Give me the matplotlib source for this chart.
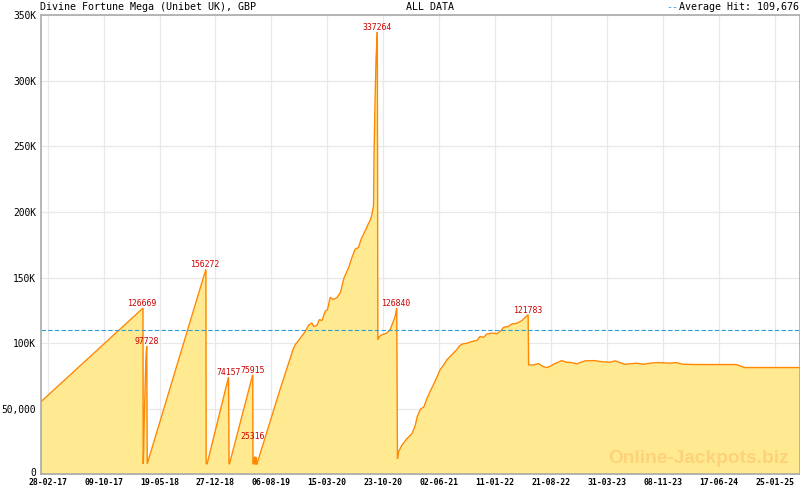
import matplotlib
matplotlib.use('Agg')
import matplotlib.pyplot as plt
import matplotlib.transforms as mtransforms
import numpy as np
import pandas as pd

# ---------------- data ----------------
dates = [
    '2017-01-31', '2018-03-14', '2018-03-15', '2018-03-17', '2018-03-19', '2018-03-22',
    '2018-03-26', '2018-03-29', '2018-03-31', '2018-11-19', '2018-11-20', '2018-11-24',
    '2019-02-17', '2019-02-19', '2019-02-21', '2019-05-24', '2019-05-25', '2019-05-30',
    '2019-05-31', '2019-06-02', '2019-06-03', '2019-06-06', '2019-06-07', '2019-06-08',
    '2019-06-10', '2019-09-11', '2019-10-31', '2019-11-09', '2019-11-29', '2019-12-19',
    '2020-01-01', '2020-01-14', '2020-01-21', '2020-02-03', '2020-02-13', '2020-02-23',
    '2020-03-07', '2020-03-16', '2020-03-27', '2020-04-07', '2020-04-22', '2020-05-06',
    '2020-05-21', '2020-06-08', '2020-06-21', '2020-07-04', '2020-07-17', '2020-07-28',
    '2020-08-13', '2020-08-22', '2020-09-04', '2020-09-09', '2020-09-15', '2020-09-17',
    '2020-09-21', '2020-09-25', '2020-09-28', '2020-09-30', '2020-10-02', '2020-10-08',
    '2020-10-18', '2020-11-07', '2020-11-20', '2020-11-30', '2020-12-10', '2020-12-16',
    '2020-12-19', '2020-12-23', '2021-01-05', '2021-01-25', '2021-02-15', '2021-02-28',
    '2021-03-07', '2021-03-20', '2021-04-03', '2021-04-14', '2021-04-27', '2021-05-10',
    '2021-05-24', '2021-06-06', '2021-06-19', '2021-07-03', '2021-07-16', '2021-07-29',
    '2021-08-11', '2021-08-24', '2021-09-06', '2021-09-23', '2021-10-11', '2021-10-31',
    '2021-11-12', '2021-11-26', '2021-12-09', '2021-12-29', '2022-01-18', '2022-02-03',
    '2022-02-13', '2022-03-05', '2022-03-18', '2022-04-07', '2022-04-27', '2022-05-11',
    '2022-05-22', '2022-05-24', '2022-06-12', '2022-07-02', '2022-07-21', '2022-08-04',
    '2022-08-24', '2022-08-30', '2022-09-13', '2022-10-02', '2022-10-22', '2022-11-11',
    '2022-12-01', '2023-01-03', '2023-02-11', '2023-03-03', '2023-04-12', '2023-05-02',
    '2023-06-10', '2023-07-27', '2023-08-22', '2023-10-01', '2023-10-27', '2023-12-06',
    '2024-01-01', '2024-01-28', '2024-03-21', '2024-08-26', '2024-09-28', '2025-05-04',
]
values = [
    55000, 126669, 8000, 19000, 41000, 62000,
    90000, 97728, 8000, 156272, 8000, 8000,
    74157, 8000, 8000, 75915, 8000, 8000,
    13000, 13000, 8000, 8000, 13000, 8000,
    8000, 65500, 95000, 98800, 103800, 109000,
    113600, 115400, 112800, 113600, 118000, 117200,
    124300, 125600, 135000, 133300, 134600, 138400,
    149900, 157600, 165200, 171700, 172900, 179400,
    185700, 189600, 194700, 198600, 204900, 244600,
    285500, 317500, 330300, 337264, 102600, 105000,
    106400, 107700, 110300, 115400, 120500, 126840,
    11700, 16900, 22000, 27100, 31000, 37400,
    43700, 49600, 51400, 57300, 62900, 68000,
    73700, 79600, 82900, 87200, 89800, 92300,
    94900, 98200, 99500, 100000, 101300, 102100,
    105100, 104400, 106900, 107700, 107200, 109500,
    112000, 112800, 114600, 115100, 117200, 119700,
    121783, 83400, 83400, 84400, 82100, 81400,
    82900, 83900, 85000, 86700, 85400, 85200,
    84200, 86500, 86700, 86000, 85400, 86500,
    83900, 84700, 83900, 85000, 85200, 84700,
    85200, 83900, 83700, 83700, 81400, 81400,
]

hit_dates = ['2018-03-14', '2018-03-29', '2018-11-19', '2019-02-17', '2019-05-24',
             '2019-05-25', '2020-09-30', '2020-12-16', '2022-05-22']
hit_values = [126669, 97728, 156272, 74157, 75915, 25316, 337264, 126840, 121783]

average_hit = 109676

xtick_dates = ['2017-02-28', '2017-10-09', '2018-05-19', '2018-12-27', '2019-08-06',
               '2020-03-15', '2020-10-23', '2021-06-02', '2022-01-11', '2022-08-21',
               '2023-03-31', '2023-11-08', '2024-06-17', '2025-01-25']
xtick_labels = ['28-02-17', '09-10-17', '19-05-18', '27-12-18', '06-08-19',
                '15-03-20', '23-10-20', '02-06-21', '11-01-22', '21-08-22',
                '31-03-23', '08-11-23', '17-06-24', '25-01-25']
ytick_values = [0, 50000, 100000, 150000, 200000, 250000, 300000, 350000]
ytick_labels = ['0', '50,000', '100K', '150K', '200K', '250K', '300K', '350K']

x_start, x_end = '2017-01-31', '2025-05-04'

title_text = 'Divine Fortune Mega (Unibet UK), GBP'
period_text = 'ALL DATA'
watermark = 'Online-Jackpots.biz'

# ---------------- drawing ----------------
MONO = ['DejaVu Sans Mono']
W, H = 800, 490
fig = plt.figure(figsize=(W / 100, H / 100), dpi=100)
fig.patch.set_facecolor('white')
ax = fig.add_axes([40.5 / W, 1 - 474.3 / H, 759 / W, 459 / H])

x = pd.to_datetime(dates)
ax.fill_between(x, values, 0, color='#ffea91', lw=0, zorder=2)
ax.plot(x, values, color='#ff8800', lw=1.0, zorder=4, solid_joinstyle='miter')
ax.axhline(average_hit, color='#2a9fd6', lw=0.8, dashes=(4, 2), zorder=5)

ax.text(0.986, 0.025, watermark, transform=ax.transAxes, ha='right', va='baseline',
        fontsize=13.8, fontweight='bold', family=['Liberation Sans', 'DejaVu Sans'],
        color='#fdd27a', zorder=3)

for d, v in zip(pd.to_datetime(hit_dates), hit_values):
    ax.annotate(str(v), (d, v), xytext=(0, 1.5), textcoords='offset points',
                ha='center', va='baseline', fontsize=5.9, color='#cc0000',
                family=MONO, zorder=6)

major = pd.to_datetime(xtick_dates)
major_num = matplotlib.dates.date2num(major)
step = (major_num[1] - major_num[0]) / 7
minor_num = np.arange(major_num[0] - 7 * step, major_num[-1] + 7 * step, step)
ax.set_xticks(major_num)
ax.set_xticklabels(xtick_labels, fontsize=5.9, fontweight='bold', family=MONO)
ax.set_xticks(minor_num, minor=True)
ax.tick_params(axis='x', which='major', direction='in', length=4.3, width=1,
               color='#aaaaaa', pad=2.5)
ax.tick_params(axis='x', which='minor', direction='in', length=2.9, width=1,
               color='#aaaaaa')
ax.set_yticks(ytick_values)
ax.set_yticklabels(ytick_labels, fontsize=6.9, family=MONO)
ax.tick_params(axis='y', length=0, pad=3.2)

# lift the "0" label slightly, as in the reference
zero_lbl = ax.get_yticklabels()[0]
zero_lbl.set_transform(zero_lbl.get_transform() +
                       mtransforms.ScaledTranslation(0, 2.5 / 100, fig.dpi_scale_trans))

ax.set_xlim(pd.Timestamp(x_start), pd.Timestamp(x_end))
ax.set_ylim(0, 350000)

# grid lines drawn beneath the filled area, ticks stay on top
for xv in major_num:
    ax.axvline(xv, color='#e8e8e8', lw=0.9, zorder=1)
for yv in ytick_values:
    ax.axhline(yv, color='#e8e8e8', lw=0.9, zorder=1)
for s in ax.spines.values():
    s.set_color('#aaaaaa')
    s.set_linewidth(1.2)
    s.set_zorder(7)

ty = 1 - 7.5 / H
fig.text(40.5 / W, ty, title_text, ha='left', va='center', fontsize=7.2, family=MONO)
fig.text(405.5 / W, ty, period_text, ha='left', va='center', fontsize=7.2, family=MONO)
avg_txt = fig.text(799 / W, ty, f'Average Hit: {average_hit:,}', ha='right', va='center',
                   fontsize=7.2, family=MONO)
fig.canvas.draw()
bb = avg_txt.get_window_extent()
fig.text((bb.x0 - 1) / W, ty, '--', ha='right', va='center', fontsize=7.2,
         family=MONO, color='#2a9fd6')

fig.savefig('out.png', dpi=100)
